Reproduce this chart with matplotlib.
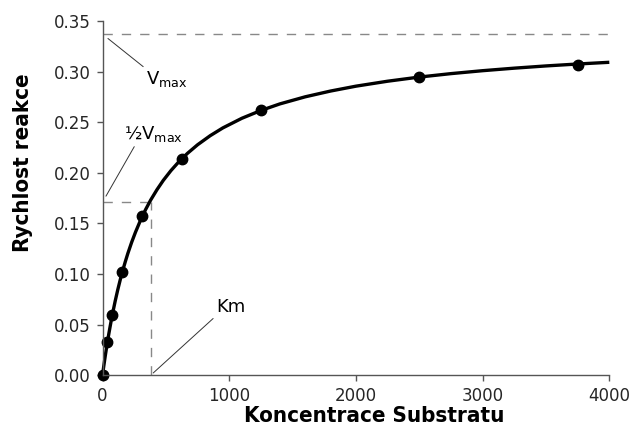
import matplotlib
matplotlib.use("Agg")
import matplotlib.pyplot as plt

# measured points
substrate = [0, 39, 78, 156, 312, 625, 1250, 2500, 3750]
rate = [0.0, 0.033, 0.060, 0.102, 0.157, 0.214, 0.262, 0.2945, 0.307]

# fitted curve
curve_x = [0, 10, 20, 30, 40, 50, 60, 70, 80, 100, 120, 140, 160, 180, 200, 230,
           260, 300, 340, 380, 430, 480, 540, 600, 670, 750, 850, 950, 1100, 1250,
           1400, 1600, 1800, 2000, 2250, 2500, 2750, 3000, 3250, 3500, 3750, 4000]
curve_y = [0.0, 0.0091, 0.0177, 0.0259, 0.0337, 0.0411, 0.0481, 0.0549, 0.0613,
           0.0733, 0.0843, 0.0944, 0.1037, 0.1123, 0.1204, 0.1314, 0.1413, 0.1532,
           0.1637, 0.1731, 0.1834, 0.1926, 0.2022, 0.2106, 0.2192, 0.2277, 0.2367,
           0.2444, 0.2539, 0.2616, 0.2681, 0.2751, 0.2808, 0.2856, 0.2905, 0.2946,
           0.2980, 0.3009, 0.3034, 0.3056, 0.3075, 0.3092]

vmax = 0.337
half_vmax = 0.171
km = 380

x_ticks = [0, 1000, 2000, 3000, 4000]
y_ticks = [0.00, 0.05, 0.10, 0.15, 0.20, 0.25, 0.30, 0.35]

fig = plt.figure(figsize=(6.32, 4.30), dpi=100)
ax = fig.add_axes([0.1622, 0.1272, 0.8019, 0.824])

dash = dict(color="#888888", lw=1.0, dashes=(6.7, 6.5))
ax.plot([0, 4000], [vmax, vmax], **dash)
ax.plot([0, km], [half_vmax, half_vmax], **dash)
ax.plot([km, km], [0, half_vmax], **dash)

ax.plot(curve_x, curve_y, color="black", lw=2.4, solid_capstyle="butt",
        solid_joinstyle="round", clip_on=False)
ax.plot(substrate, rate, "o", color="black", ms=7.5, clip_on=False)

line = dict(arrowstyle="-", color="#333333", lw=0.7, shrinkA=0)
ax.annotate(r"V$_\mathregular{max}$", xy=(0, vmax), xytext=(343, 0.3027),
            ha="left", va="top", fontsize=13,
            arrowprops=dict(relpos=(0, 1), shrinkB=5, **line))
ax.annotate(r"½V$_\mathregular{max}$", xy=(0, half_vmax), xytext=(170, 0.2286),
            ha="left", va="bottom", fontsize=13,
            arrowprops=dict(relpos=(0.2, 0), shrinkB=5, **line))
ax.annotate("Km", xy=(km, 0), xytext=(895, 0.0586),
            ha="left", va="bottom", fontsize=13,
            arrowprops=dict(relpos=(0, 0), shrinkB=2.5, **line))

ax.set_xlim(0, 4000)
ax.set_ylim(0, 0.35)
ax.set_xticks(x_ticks)
ax.set_yticks(y_ticks)
ax.set_yticklabels([f"{v:.2f}" for v in y_ticks])
ax.tick_params(labelsize=12, length=4, width=1, color="#555555",
               labelcolor="#262626", pad=4.5)
for s in ["top", "right"]:
    ax.spines[s].set_visible(False)
for s in ["left", "bottom"]:
    ax.spines[s].set_color("#555555")
    ax.spines[s].set_linewidth(1)

lab = dict(family=["DejaVu Sans Condensed", "DejaVu Sans"], weight="bold",
           stretch="condensed", fontsize=16, color="black")
ax.set_xlabel("Koncentrace Substratu", **lab)
ax.set_ylabel("Rychlost reakce", **lab)
ax.xaxis.set_label_coords(0.537, -0.086)
ax.yaxis.set_label_coords(-0.137, 0.599)

fig.savefig("out.png", dpi=100)
